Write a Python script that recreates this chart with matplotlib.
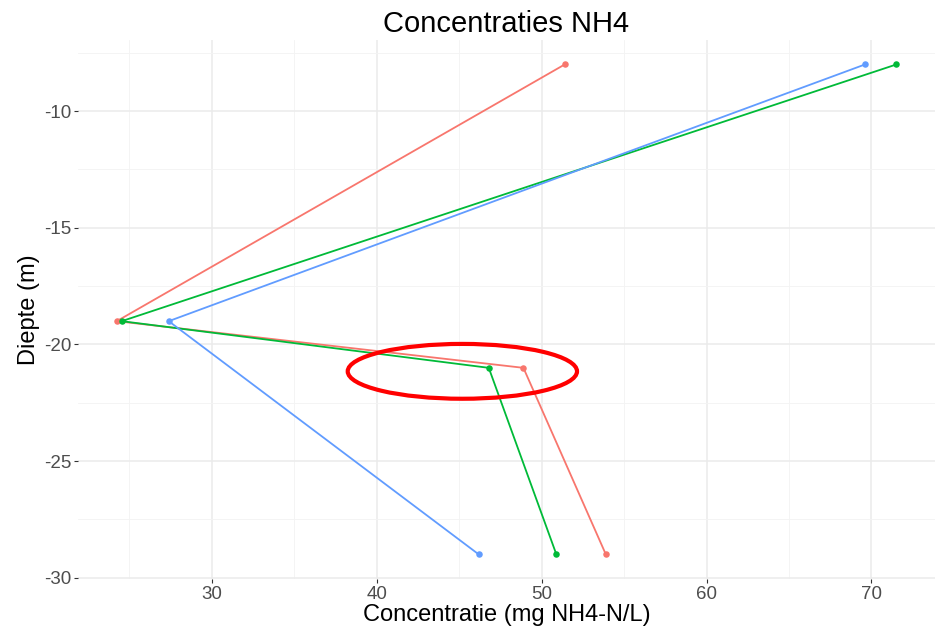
"""Concentraties NH4 versus diepte, ggplot-achtige stijl."""
import matplotlib
matplotlib.use("Agg")
import matplotlib.pyplot as plt
from matplotlib.patches import Ellipse

plt.rcParams["font.family"] = ["Liberation Sans", "DejaVu Sans"]
plt.rcParams["axes.unicode_minus"] = False

# data per meetpunt (kleur = reeks)
depth_red = [-8, -19, -21, -29]
conc_red = [51.4, 24.25, 48.9, 53.9]

depth_green = [-8, -19, -21, -29]
conc_green = [71.5, 24.55, 46.8, 50.9]

depth_blue = [-8, -19, -29]
conc_blue = [69.6, 27.4, 46.2]

series = [
    (conc_red, depth_red, "#F8766D"),
    (conc_green, depth_green, "#00BA38"),
    (conc_blue, depth_blue, "#619CFF"),
]

fig = plt.figure(figsize=(9.4, 6.3), dpi=100)
ax = fig.add_axes([78 / 940, 1 - 579 / 630, (935 - 78) / 940, (579 - 40) / 630])

for x, y, color in series:
    ax.plot(x, y, color=color, lw=1.3, zorder=3)
    ax.scatter(x, y, color=color, s=22, zorder=4, linewidths=0)

# rode markering rond de -21 m punten
ax.add_patch(Ellipse((45.2, -21.15), 13.9, 2.35, fill=False, edgecolor="#FF0000", lw=3, zorder=5))

ax.set_xlim(21.9, 73.85)
ax.set_ylim(-30.05, -6.95)
ax.set_xticks([30, 40, 50, 60, 70])
ax.set_yticks([-10, -15, -20, -25, -30])
ax.set_xticks([25, 35, 45, 55, 65], minor=True)
ax.set_yticks([-7.5, -12.5, -17.5, -22.5, -27.5], minor=True)
ax.grid(which="major", color="#EBEBEB", lw=1.1)
ax.grid(which="minor", color="#F3F3F3", lw=0.6)
ax.set_axisbelow(True)
for s in ax.spines.values():
    s.set_visible(False)
ax.tick_params(which="major", length=3, color="#333333", labelsize=13.5, labelcolor="#4D4D4D", pad=2)
ax.tick_params(which="minor", length=0)

ax.set_xlabel("Concentratie (mg NH4-N/L)", fontsize=17, labelpad=1)
ax.set_ylabel("Diepte (m)", fontsize=17, labelpad=3)
ax.set_title("Concentraties NH4", fontsize=21, pad=6)

fig.savefig("out.png", dpi=100, facecolor="white")
